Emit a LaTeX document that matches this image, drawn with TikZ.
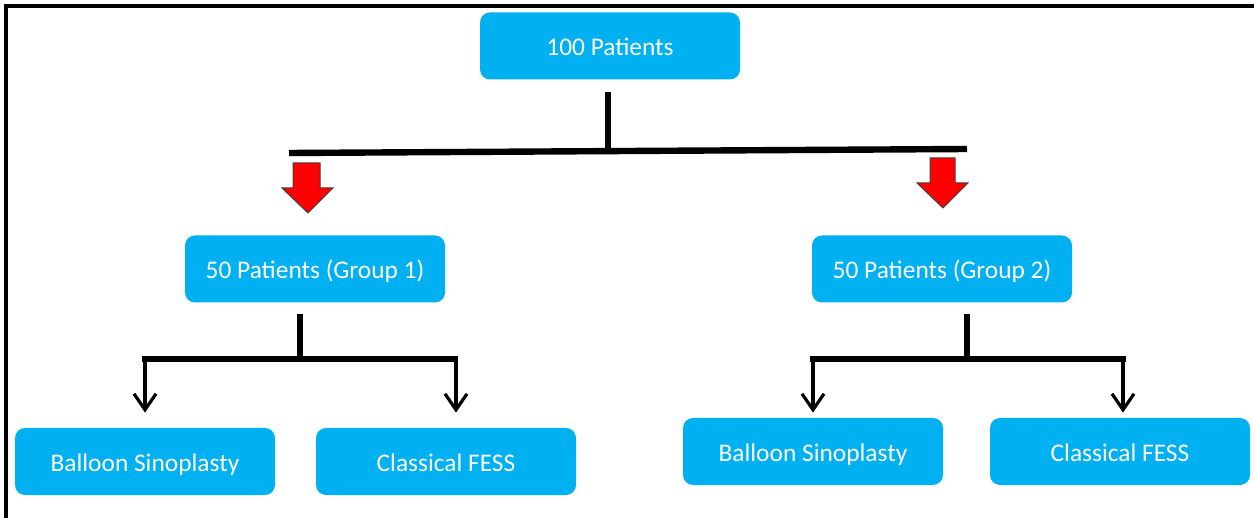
\documentclass[tikz,border=0pt]{standalone}
\usepackage{fontspec}
\setmainfont{Carlito}
\usetikzlibrary{arrows.meta,calc}
\definecolor{boxblue}{HTML}{00B0F0}
\definecolor{arrred}{HTML}{FF0000}
\tikzset{
  px/.style={x=0.5pt,y=-0.5pt},
  bluebox/.style={fill=boxblue,draw=none,rounded corners=5pt,minimum width=130pt,minimum height=33.5pt,
    text=white,font=\fontsize{12.7pt}{15pt}\selectfont,inner sep=0pt,anchor=center,
    text height=10.4pt,text depth=0.4pt},
  thickline/.style={line width=3.2pt,draw=black},
  thinarrow/.style={line width=1.6pt,draw=black,-{Straight Barb[length=8pt,width=11pt,line width=1.6pt]}},
  redarrow/.style={fill=arrred,draw=black!75,line width=0.5pt,line join=miter},
  framestyle/.style={line width=1.6pt,draw=black}
}
\begin{document}
\begin{tikzpicture}[px]
\useasboundingbox (0,0) rectangle (1254,518);
\draw[framestyle] (6,518) -- (6,6) -- (1254,6);

\node[bluebox] (top) at (610,46) {100 Patients};
\node[bluebox] (g1) at (315,269) {50 Patients (Group 1)};
\node[bluebox] (g2) at (942,269) {50 Patients (Group 2)};
\node[bluebox] (b1) at (145,461.5) {Balloon Sinoplasty};
\node[bluebox] (c1) at (446,461.5) {Classical FESS};
\node[bluebox] (b2) at (813,451.5) {Balloon Sinoplasty};
\node[bluebox] (c2) at (1120,451.5) {Classical FESS};

% main split
\coordinate (barL) at (289,153);
\coordinate (barR) at (967,149);
\coordinate (j0) at (608,151);
\draw[thickline] ($(top.south)+(-2,12)$) -- (j0);
\draw[thickline] (barL) -- (barR);

% red block arrows
\draw[redarrow] (293,163) -- (320,163) -- (320,188) -- (333,188) -- (308,213) -- (282,188) -- (293,188) -- cycle;
\draw[redarrow] (930,158) -- (955,158) -- (955,183) -- (968,183) -- (943,208) -- (917,183) -- (930,183) -- cycle;

% group 1 split
\coordinate (j1) at (300,359);
\coordinate (l1) at (142,359);
\coordinate (r1) at (458,359);
\draw[thickline] ($(g1.south)+(-15,11)$) -- (j1);
\draw[thickline] (l1) -- (r1);
\draw[thinarrow] ($(l1)+(3,0)$) -- ($(b1.north)+(0,-15)$);
\draw[thinarrow] ($(r1)+(-2,0)$) -- ($(c1.north)+(10,-15)$);

% group 2 split
\coordinate (j2) at (967,359);
\coordinate (l2) at (810,359);
\coordinate (r2) at (1126,359);
\draw[thickline] ($(g2.south)+(25,11)$) -- (j2);
\draw[thickline] (l2) -- (r2);
\draw[thinarrow] ($(l2)+(3,0)$) -- ($(b2.north)+(0,-5)$);
\draw[thinarrow] ($(r2)+(-3,0)$) -- ($(c2.north)+(3,-5)$);
\end{tikzpicture}
\end{document}
